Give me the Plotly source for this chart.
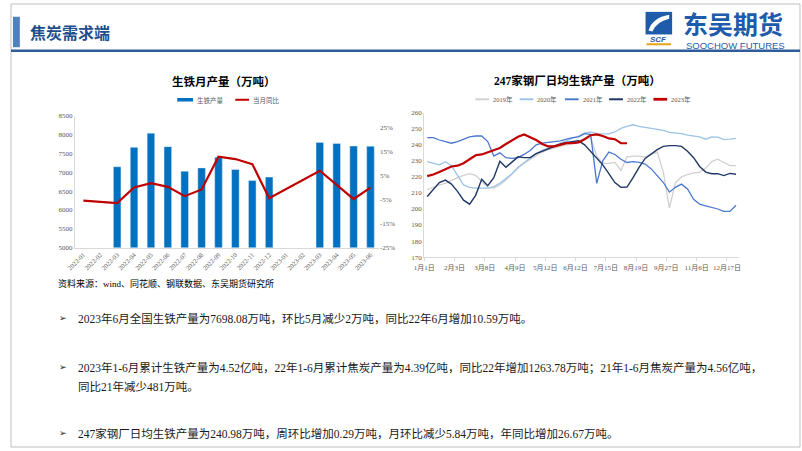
import plotly.graph_objects as go

W, H = 802, 451
def px(x): return x / W
def py(y): return 1 - y / H

# ---------------- Left chart data ----------------
months = ["2022-01", "2022-02", "2022-03", "2022-04", "2022-05", "2022-06",
          "2022-07", "2022-08", "2022-09", "2022-10", "2022-11", "2022-12",
          "2023-01", "2023-02", "2023-03", "2023-04", "2023-05", "2023-06"]
pig_iron = [None, None, 7151, 7666, 8044, 7684, 7030, 7120, 7400, 7078, 6782, 6877,
            None, None, 7797, 7771, 7700, 7698.08]
yoy = [-5.4, None, -6.4, 0.1, 1.9, 0.4, -3.5, -0.7, 13.0, 12.0, 9.9, -4.4,
       None, None, 7.1, 1.2, -4.7, 0.1]
yoy_ticks = [-25, -15, -5, 5, 15, 25]

# ---------------- Right chart data ----------------
week_labels = ["1月1日", "2月3日", "3月8日", "4月9日", "5月12日", "6月12日",
               "7月15日", "8月19日", "9月27日", "11月6日", "12月17日"]
label_index = [0, 5, 10, 15, 20, 25, 30, 35, 40, 45, 50]

y2019 = [212, 213.5, 215, 216, 218, 219.5, 221, 222, 221, 217, 213.5, 213, 215, 218,
         222, 225.5, 228.5, 231, 233.5, 235.5, 237, 238, 239, 240, 241, 242.5, 244,
         244.5, 233, 228.5, 228.5, 229, 224, 232.5, 233, 233, 232.5, 234, 235.5, 223,
         200.5, 216.5, 220, 221.5, 222.5, 223, 225.5, 229.5, 231, 229, 227, 227]
y2020 = [229.5, 228.5, 227.5, 229.5, 227, 221, 215, 213.5, 213, 213, 213, 214, 216,
         219, 222, 226, 229, 232, 234.5, 236.5, 238, 239.5, 241, 242.5, 244, 245.5,
         247.5, 248, 247, 246.8, 246.8, 248, 250.2, 251.5, 252.5, 251.5, 250.8, 250.2,
         249.8, 249, 247.8, 247.5, 247, 246, 245.5, 245, 243.5, 245, 244.8, 243.2,
         243.5, 244]
y2021 = [244.5, 244.5, 243, 242, 241, 242, 243.5, 245, 245.5, 245.5, 242, 233, 235,
         232, 231.5, 232, 234, 236.5, 240, 241, 241.5, 242, 242.5, 243.5, 244.5, 245,
         247, 246.5, 216, 230, 235.5, 234, 231, 229, 229.5, 229, 228, 225, 221, 216.5,
         210.5, 213.5, 215.5, 212.5, 206, 203, 202, 201, 200, 198.5, 198.5, 202.3]
y2022 = [207.8, 212, 216.5, 218, 215.5, 211, 205.5, 203, 208.5, 218.5, 214.5, 219.5,
         229.8, 226, 229, 232.5, 232, 232, 234.5, 236, 237.5, 239, 240.5, 241.5, 242,
         242.5, 240, 236, 231.5, 227.5, 222, 216.5, 213.5, 213.7, 219.5, 226, 231.5,
         234.5, 237, 239, 239.5, 239.5, 239, 236, 232, 226.5, 223, 222, 222, 220.8,
         222.2, 221.7]
y2023 = [220.5, 221.5, 223, 224.5, 226.5, 227, 228.5, 231, 233.5, 234, 235.5, 236.5,
         238, 240.5, 243, 245, 246.5, 245, 243, 240.5, 239, 239, 240, 241, 241, 241.5,
         243.5, 246, 246.5, 245.5, 244, 243.5, 241, 240.98]

SERIF = "Liberation Serif, Noto Sans CJK SC"
SANS = "Noto Sans CJK SC"
TICK = dict(family=SERIF, size=7, color="#595959")
BAR_COLOR = "#0070C0"
YOY_COLOR = "#C00000"

fig = go.Figure()

# Left chart
fig.add_trace(go.Bar(x=months, y=pig_iron, name="生铁产量", marker_color=BAR_COLOR,
                     xaxis="x", yaxis="y", showlegend=False))
fig.add_trace(go.Scatter(x=months, y=yoy, name="当月同比", mode="lines",
                         line=dict(color=YOY_COLOR, width=2.2), connectgaps=True,
                         xaxis="x", yaxis="y2", showlegend=False))

# Right chart
series = [("2019年", y2019, "#D0D0D0", 1.3), ("2020年", y2020, "#9DC3E6", 1.3),
          ("2021年", y2021, "#4A78D0", 1.3), ("2022年", y2022, "#1F3864", 1.4),
          ("2023年", y2023, "#C00000", 2.2)]
for name, ys, col, w in series:
    fig.add_trace(go.Scatter(x=list(range(len(ys))), y=ys, name=name, mode="lines",
                             line=dict(color=col, width=w), showlegend=False,
                             xaxis="x3", yaxis="y3"))

fig.update_layout(
    width=W, height=H, margin=dict(l=0, r=0, t=0, b=0), autosize=False,
    paper_bgcolor="white", plot_bgcolor="white", bargap=0.55, showlegend=False,
    xaxis=dict(domain=[px(65), px(374)], anchor="y", type="category",
               tickangle=-45, tickfont=dict(family=SERIF, size=6.5, color="#595959"),
               showline=True, linecolor="#D9D9D9", showgrid=False, ticks=""),
    yaxis=dict(domain=[py(248), py(114)], range=[5000, 8500], dtick=500,
               tickfont=TICK, showgrid=False, showline=True, linecolor="#D9D9D9",
               zeroline=False),
    yaxis2=dict(overlaying="y", side="right", anchor="x", range=[-25, 30],
                tickvals=yoy_ticks, ticktext=[f"{v}%" for v in yoy_ticks], tickfont=TICK,
                showgrid=False, zeroline=False, showline=False),
    xaxis3=dict(domain=[px(420), px(740)], anchor="y3", range=[-0.5, 51.5],
                tickvals=[i - 0.5 for i in label_index], ticktext=week_labels,
                tickfont=dict(family=SERIF, size=7, color="#595959"),
                showline=True, linecolor="#D9D9D9", showgrid=False,
                ticks="outside", ticklen=3, tickcolor="#D9D9D9", zeroline=False),
    yaxis3=dict(domain=[py(257.7), py(110.7)], anchor="x3", range=[170, 260], dtick=10,
                tickfont=TICK, showgrid=False, showline=True, linecolor="#D9D9D9",
                zeroline=False),
)

def note(text, x, y, size, family, color="#000", xanchor="left"):
    return dict(text=text, x=px(x), y=py(y), xref="paper", yref="paper",
                xanchor=xanchor, yanchor="middle", showarrow=False,
                font=dict(family=family, size=size, color=color))

ann = [
    note("<b>生铁月产量（万吨）</b>", 217, 78, 11.5, SANS, xanchor="center"),
    note("<b>247家钢厂日均生铁产量（万吨）</b>", 576, 78, 11.5, SERIF, xanchor="center"),
    note("资料来源：wind、同花顺、钢联数据、东吴期货研究所", 46, 285, 9, SERIF),
    note("<b>焦炭需求端</b>", 17, 29, 16, SANS, color="#1F4E8C"),
    note("<b>东吴期货</b>", 681, 19, 25, SANS, color="#1E5BAA"),
    note("SOOCHOW FUTURES", 684, 42, 9.5, "Liberation Sans", color="#1E5BAA"),
    note("<b><i>SCF</i></b>", 658, 36, 8, "Liberation Sans", color="#1E5BAA", xanchor="center"),
]

shapes = [
    dict(type="rect", xref="paper", yref="paper", x0=0, x1=1, y0=0, y1=1,
         line=dict(color="#BFBFBF", width=1), fillcolor="rgba(0,0,0,0)"),
    dict(type="rect", xref="paper", yref="paper", x0=px(2), x1=px(9), y0=py(44), y1=py(13),
         line=dict(width=0), fillcolor="#4F81BD"),
    dict(type="line", xref="paper", yref="paper", x0=0, x1=1, y0=py(47.5), y1=py(47.5),
         line=dict(color="#2E5C9A", width=2.5)),
    # logo icon
    dict(type="path", xref="paper", yref="paper",
         path=f"M {px(645)} {py(8)} L {px(672)} {py(8)} L {px(672)} {py(31)} L {px(645)} {py(31)} Z",
         fillcolor="#1E5BAA", line=dict(width=0)),
    dict(type="path", xref="paper", yref="paper",
         path=f"M {px(648)} {py(27)} Q {px(652)} {py(14)} {px(669)} {py(11)} L {px(669)} {py(15)} Q {px(656)} {py(18)} {px(652)} {py(28)} Z",
         fillcolor="white", line=dict(width=0)),
    dict(type="line", xref="paper", yref="paper", x0=px(646), x1=px(671), y0=py(41), y1=py(41),
         line=dict(color="#E8A317", width=2)),
]

# Legend keys (left chart)
shapes.append(dict(type="rect", xref="paper", yref="paper", x0=px(169), x1=px(185),
                   y0=py(99.3), y1=py(95.7), fillcolor=BAR_COLOR, line=dict(width=0)))
ann.append(note("生铁产量", 187.5, 97.5, 6.5, SANS, color="#595959"))
shapes.append(dict(type="line", xref="paper", yref="paper", x0=px(228), x1=px(242),
                   y0=py(97.5), y1=py(97.5), line=dict(color=YOY_COLOR, width=2)))
ann.append(note("当月同比", 244, 97.5, 6.5, SANS, color="#595959"))

# Legend keys (right chart)
legend_x = [472, 517, 563, 608, 653]
for (name, ys, col, w), lx in zip(series, legend_x):
    shapes.append(dict(type="line", xref="paper", yref="paper", x0=px(lx), x1=px(lx + 14),
                       y0=py(97), y1=py(97), line=dict(color=col, width=w + 0.6)))
    ann.append(note(name, lx + 16, 97, 6.5, SERIF, color="#595959"))

bullets = [
    (320, "2023年6月全国生铁产量为7698.08万吨，环比5月减少2万吨，同比22年6月增加10.59万吨。", True),
    (370, "2023年1-6月累计生铁产量为4.52亿吨，22年1-6月累计焦炭产量为4.39亿吨，同比22年增加1263.78万吨；21年1-6月焦炭产量为4.56亿吨，", True),
    (389, "同比21年减少481万吨。", False),
    (437, "247家钢厂日均生铁产量为240.98万吨，周环比增加0.29万吨，月环比减少5.84万吨，年同比增加26.67万吨。", True),
]
for yy, t, b in bullets:
    ann.append(note(t, 66, yy, 11.5, SERIF, color="#1A1A1A"))
    if b:
        ann.append(note("➢", 47, yy, 9, "DejaVu Sans", color="#1A1A1A"))

fig.update_layout(annotations=ann, shapes=shapes)
fig.write_html("out.html")
